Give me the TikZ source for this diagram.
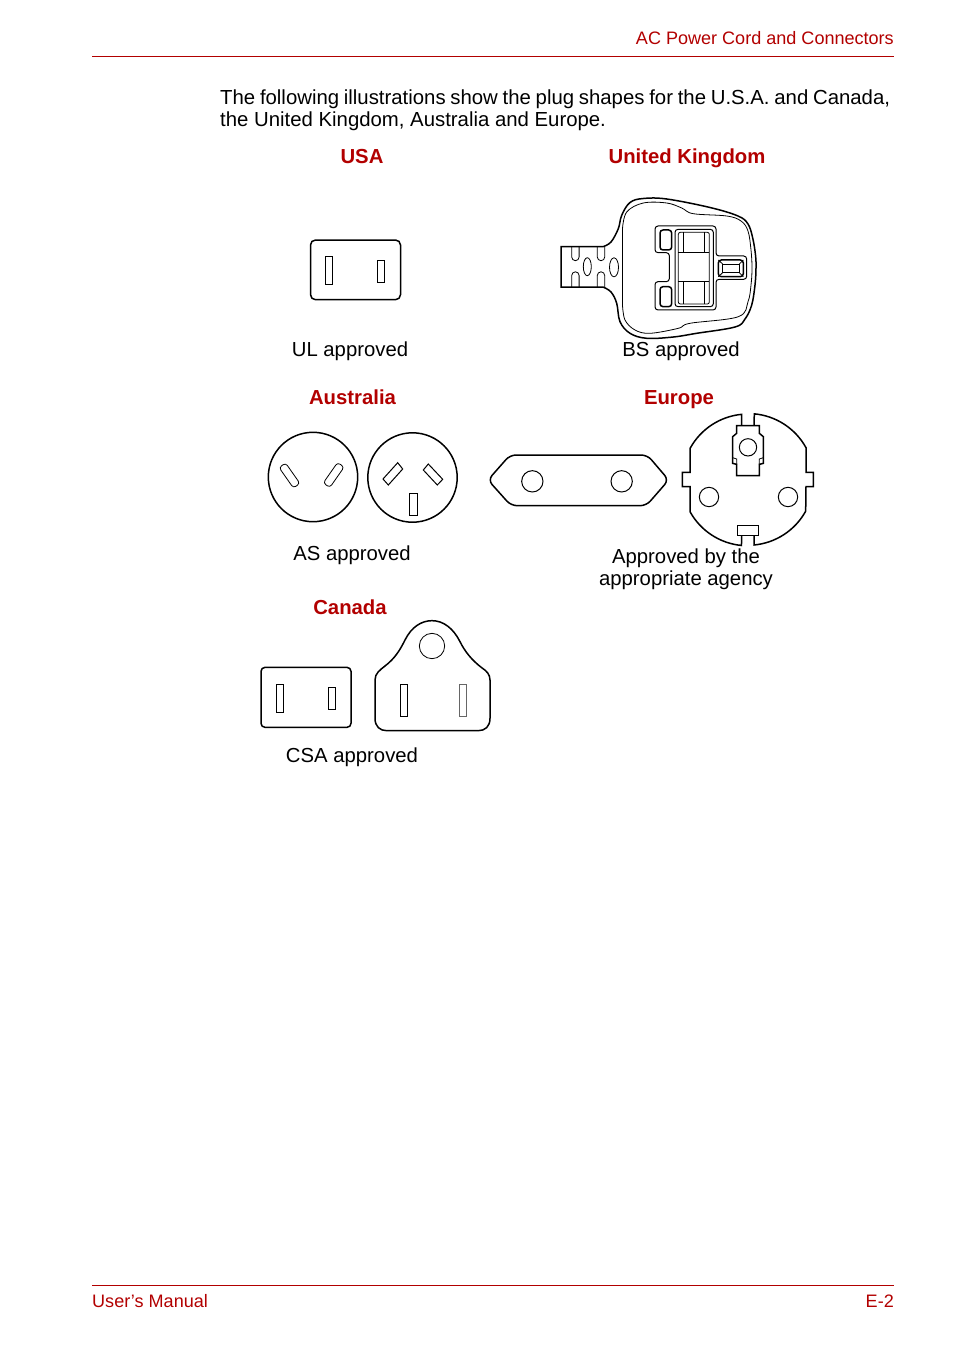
\documentclass[tikz,border=0pt]{standalone}
\usepackage{fontspec}
\setmainfont{Liberation Sans}
\usetikzlibrary{positioning}
\definecolor{hdrred}{RGB}{178,0,0}
\tikzset{
  %% page header and footer
  hdrtxt/.style={font=\fontsize{18.05}{22}\selectfont,text=hdrred,inner sep=0pt},
  pgrule/.style={line width=0.9pt,color=hdrred},
  %% country titles
  ctitle/.style={font=\fontsize{20.3}{24}\selectfont\bfseries,text=hdrred,inner sep=0pt,anchor=base},
  %% captions and body
  capt/.style={font=\fontsize{20.3}{23}\selectfont,inner sep=0pt,anchor=base,align=center},
  bodytxt/.style={font=\fontsize{20.35}{23}\selectfont,inner sep=0pt,anchor=base west,align=left},
  %% plug outlines
  plug/.style={line width=1.5pt,rounded corners=#1},
  plug/.default=0pt,
  pin/.style={line width=1pt,rounded corners=#1},
  pin/.default=0pt,
  fine/.style={line width=0.8pt},
}
\begin{document}
\begin{tikzpicture}[x=1pt,y=-1pt]
  \useasboundingbox (0,0) rectangle (954,1351);

  %% Header and footer
  \coordinate (hl) at (92,56.5);
  \coordinate (hr) at (894,56.5);
  \coordinate (fl) at (92,1285.5);
  \coordinate (fr) at (894,1285.5);
  \draw[pgrule] (hl)--(hr);
  \draw[pgrule] (fl)--(fr);
  \node[hdrtxt,anchor=base east] (chap) at (894,44.7) {AC Power Cord and Connectors};
  \node[hdrtxt,anchor=base west] (man) at (92,1307.3) {User’s Manual};
  \node[hdrtxt,anchor=base east] (pgno) at (894,1307.3) {E-2};

  %% Intro
  \node[bodytxt] (introa) at (220,104.7) {\spaceskip=4.75pt The following illustrations show the plug shapes for the U.S.A. and Canada,};
  \node[bodytxt] (introb) at (220,126.7) {the United Kingdom, Australia and Europe.};

  %% Titles
  \node[ctitle] (tusa) at (362,163.7) {USA};
  \node[ctitle] (tuk) at (687,163.7) {United Kingdom};
  \node[ctitle] (taus) at (352.5,404) {Australia};
  \node[ctitle] (teur) at (679,404) {Europe};
  \node[ctitle] (tcan) at (350,614) {Canada};

  %% Captions
  \node[capt] (cul) at (350,356) {UL approved};
  \node[capt] (cbs) at (681,356) {BS approved};
  \node[capt] (cas) at (352,560) {AS approved};
  \node[capt] (ceua) at (686,563) {Approved by the};
  \node[capt] (ceub) at (686,585.5) {appropriate agency};
  \node[capt] (ccsa) at (352,762) {CSA approved};

  %% USA plug
  \draw[plug=5pt] (310.5,240) rectangle (400.5,299.7);
  \draw[pin] (325.3,256) rectangle (332.7,284.3);
  \draw[pin] (377.3,260.3) rectangle (384.3,282.7);

  %% UK plug, body
  \draw[plug] (561,246.7)--plot[smooth,tension=0.6] coordinates {(603,246.7) (611,242) (618.3,228.7)
      (621.7,215.3) (630,202.5) (643.3,198.5) (666.7,199) (710,207.5) (738,216) (748,224)
      (752.7,238) (755.5,255) (756,268) (755,285) (751.7,305) (745,319) (735,327) (696.7,333.3)
      (673.3,337) (646.7,338.3) (630,333.3) (620,321.7) (616.7,303.3) (611,292) (603,287)}
    --(561,287)--cycle;
  \draw[fine] plot[smooth,tension=0.6] coordinates {(622.5,228.7) (626.7,212) (643.3,203) (666.7,203)
      (681.7,208) (693.3,213.7) (726.7,216) (741,221) (748,231) (751,250) (752,268) (751,285)
      (748,301.7) (738.3,316.7) (690,323.3) (678.3,328.3) (650,333.3) (635,330) (625,320)
      (622.5,305)}--cycle;
  %% tab slots
  \foreach \sx in {571.7,597.3} {
    \draw[fine] (\sx,246.7)--(\sx,257) arc[start angle=180,end angle=0,radius=3.7]--(\sx+7.4,246.7);
    \draw[fine] (\sx,287)--(\sx,275.5) arc[start angle=-180,end angle=0,radius=3.7]--(\sx+7.4,287);
  }
  \draw[fine] (587.3,266.7) ellipse[x radius=4,y radius=9];
  \draw[fine] (614,267.3) ellipse[x radius=4.5,y radius=9.5];
  %% UK plug, socket
  \begin{scope}[shift={(550,190)},scale=1/3]
    \draw[pin=3pt] (315,108)--(498,108)--(498,198)--(590,198)--(590,268)--(498,268)
      --(498,360)--(315,360)--(315,275)--(358,275)--(358,188)--(315,188)--cycle;
    \draw[plug=3pt] (330,120) rectangle (365,180);
    \draw[plug=3pt] (330,290) rectangle (365,350);
    \draw[pin=3pt] (375,118) rectangle (490,350);
    \draw[fine,rounded corners=2pt] (385,127) rectangle (478,342);
    \draw[fine] (385,187)--(478,187) (385,275)--(478,275);
    \draw[fine] (400,127)--(400,187) (463,127)--(463,187) (400,275)--(400,342) (463,275)--(463,342);
    \draw[plug=3pt] (505,210) rectangle (580,260);
    \draw[fine] (518,222) rectangle (568,248);
    \draw[fine] (505,210)--(518,222) (580,210)--(568,222) (505,260)--(518,248) (580,260)--(568,248);
  \end{scope}

  %% Australia plugs
  \draw[plug] (313,477) circle[radius=44.7];
  \draw[plug] (412.5,477.5) circle[radius=44.7];
  \draw[fine,rounded corners=3pt,rotate around={-55:(289.5,475.5)}] (277,471.5) rectangle (302,479.5);
  \draw[fine,rounded corners=3pt,rotate around={55:(333.7,475)}] (321.2,471) rectangle (346.2,479);
  \draw[pin] (397.7,462.7)--(402.7,469)--(388.3,485)--(383,479)--cycle;
  \draw[pin] (428.3,464)--(423.3,470)--(437.3,485)--(442.7,479.3)--cycle;
  \draw[pin] (409.3,493) rectangle (417.3,515);

  %% Europe plugs
  \begin{scope}[shift={(480,405)},scale=1/3]
    \draw[plug=6pt] (24,225)--(90,150)--(502,150)--(566,225)--(499,302)--(93,302)--cycle;
    \draw[pin] (157,229) circle[radius=32];
    \draw[pin] (425,229) circle[radius=32];
    \draw[plug] (785,62)--(785,28) arc[start angle=-95.5,end angle=-151.1,radius=198]
      --(630,202)--(607,202)--(607,245)--(630,245)--(630,320)
      arc[start angle=151.1,end angle=95.5,radius=198]
      --(785,392) (822,392)--(822,420)
      arc[start angle=84.7,end angle=28.9,radius=198]
      --(978,245)--(1000,245)--(1000,202)--(978,202)--(978,128)
      arc[start angle=-28.9,end angle=-84.7,radius=198]--(822,62);
    \draw[pin] (772,362) rectangle (835,392);
    \draw[plug] (770,62)--(838,62)--(838,85)--(850,95)--(850,175)--(838,178)--(838,212)
      --(770,212)--(770,178)--(758,175)--(758,95)--(770,85)--cycle;
    \draw[fine] (758,158)--(770,162)--(770,178) (850,158)--(838,162)--(838,178);
    \draw[pin] (804,127) circle[radius=26];
    \draw[pin] (687,276) circle[radius=29];
    \draw[pin] (924,276) circle[radius=29];
  \end{scope}

  %% Canada plugs
  \begin{scope}[shift={(255,615)},scale=1/3]
    \draw[plug=4pt] (18,157) rectangle (288,337);
    \draw[pin] (64,208) rectangle (85,292);
    \draw[pin] (220,217) rectangle (242,283);
    \draw[plug] (360,195) .. controls (360,175) and (375,165) .. (390,153)
      .. controls (420,130) and (435,105) .. (450,75)
      .. controls (470,35) and (500,17) .. (531,17)
      .. controls (565,17) and (595,40) .. (615,80)
      .. controls (630,110) and (650,135) .. (680,158)
      .. controls (695,168) and (705,178) .. (705,195)
      --(705,310) .. controls (705,335) and (690,347) .. (670,347)
      --(395,347) .. controls (375,347) and (360,335) .. (360,310)--cycle;
    \draw[fine] (531,93) circle[radius=38];
    \draw[pin] (436,207) rectangle (458,303);
    \draw[pin,black!60] (613,207) rectangle (635,303);
  \end{scope}
\end{tikzpicture}
\end{document}
